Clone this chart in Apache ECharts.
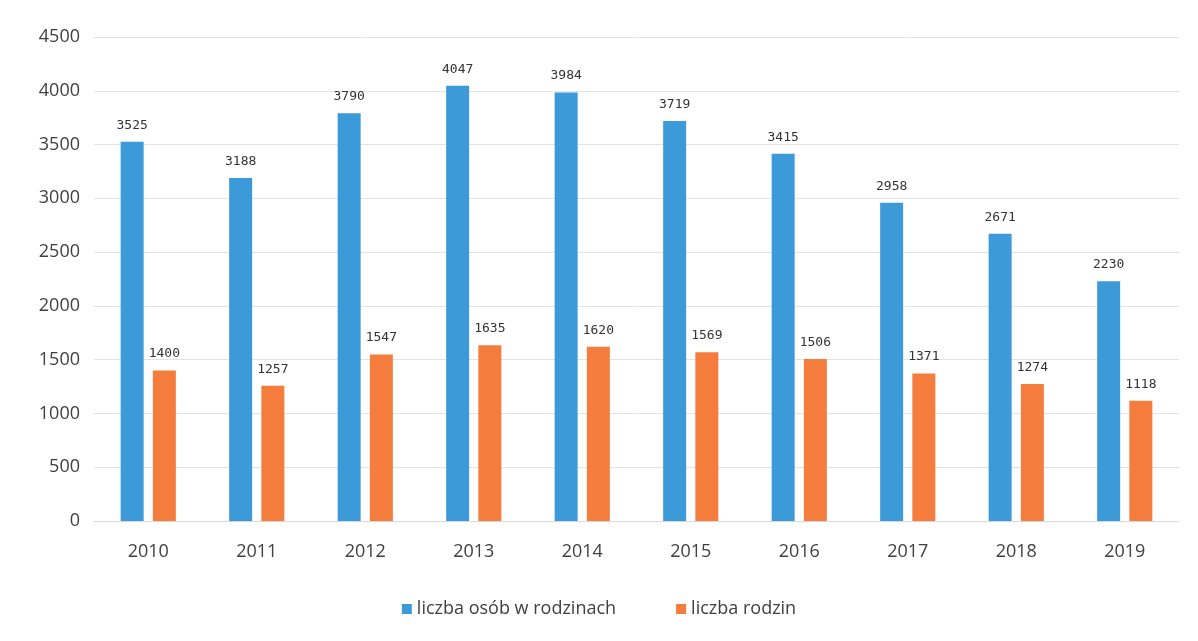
<!DOCTYPE html>
<html>
<head>
<meta charset="utf-8">
<script src="https://cdn.jsdelivr.net/npm/echarts@6/dist/echarts.min.js"></script>
<style>
  html, body { margin: 0; padding: 0; background: #fff; }
  #chart { width: 1198px; height: 641px; }
</style>
</head>
<body>
<div id="chart"></div>
<script>
const years = ["2010", "2011", "2012", "2013", "2014", "2015", "2016", "2017", "2018", "2019"];
const persons = [3525, 3188, 3790, 4047, 3984, 3719, 3415, 2958, 2671, 2230];
const families = [1400, 1257, 1547, 1635, 1620, 1569, 1506, 1371, 1274, 1118];

const chart = echarts.init(document.getElementById("chart"));

const labelStyle = {
  show: true,
  position: "top",
  distance: 10,
  fontFamily: "DejaVu Sans Mono",
  fontSize: 13,
  color: "#333",
};

chart.setOption({
  animation: false,
  textStyle: { fontFamily: "Open Sans" },
  grid: { left: 94, right: 19, top: 37, bottom: 120 },
  legend: {
    bottom: 18,
    itemWidth: 10,
    itemHeight: 10,
    itemGap: 60,
    icon: "rect",
    textStyle: { fontSize: 18, color: "#404040", fontFamily: "Open Sans" },
    data: ["liczba osób w rodzinach", "liczba rodzin"],
  },
  xAxis: {
    type: "category",
    data: years,
    axisLine: { lineStyle: { color: "#d9d9d9" } },
    axisTick: { show: false },
    axisLabel: { fontSize: 18, color: "#404040", margin: 22 },
  },
  yAxis: {
    type: "value",
    min: 0,
    max: 4500,
    interval: 500,
    axisLine: { show: false },
    axisTick: { show: false },
    axisLabel: {
      fontSize: 18,
      color: "#404040",
      margin: 14,
      formatter: (v) => String(v),
    },
    splitLine: { lineStyle: { color: "#e3e3e3" } },
  },
  series: [
    {
      name: "liczba osób w rodzinach",
      type: "bar",
      data: persons,
      barWidth: 23,
      barGap: "40%",
      itemStyle: { color: "#3d9ad8" },
      label: labelStyle,
    },
    {
      name: "liczba rodzin",
      type: "bar",
      data: families,
      barWidth: 23,
      itemStyle: { color: "#f47c3c" },
      label: labelStyle,
    },
  ],
});
</script>
</body>
</html>
